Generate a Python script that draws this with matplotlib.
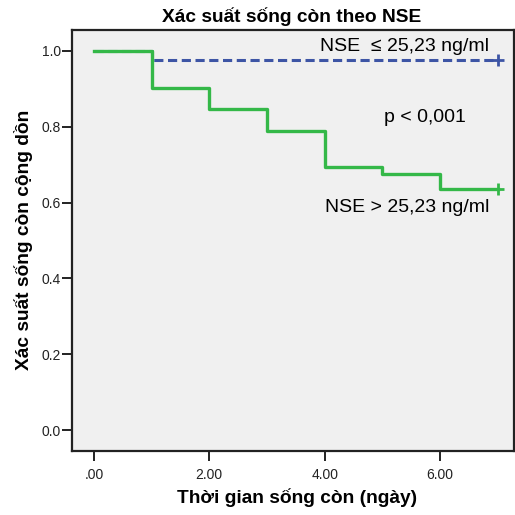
import numpy as np
import matplotlib
matplotlib.use('Agg')
import matplotlib.pyplot as plt

plt.rcParams['font.family'] = ['Liberation Sans', 'DejaVu Sans']

# survival curves (Kaplan-Meier style, step after each day)
time_high = [0, 1, 2, 3, 4, 5, 6, 7]
surv_high = [1.0, 0.903, 0.847, 0.789, 0.694, 0.675, 0.636, 0.636]
time_low = [0, 1, 7]
surv_low = [1.0, 0.976, 0.976]

xticks = [0, 2, 4, 6]
xticklabels = ['.00', '2.00', '4.00', '6.00']
yticks = [0.0, 0.2, 0.4, 0.6, 0.8, 1.0]

green = '#34b848'
blue = '#3d55a5'


def main():
    fig = plt.figure(figsize=(5.15, 5.15), dpi=100)
    ax = fig.add_axes([0.1398, 0.1243, 0.858, 0.8175])
    ax.set_facecolor('#f0f0f0')

    ax.step(time_low, surv_low, where='post', color=blue, lw=2.2,
            dashes=(3, 1.5), zorder=2)
    ax.plot(time_low[-1], surv_low[-1], marker='+', color=blue,
            markersize=8, mew=2, zorder=3)
    ax.step(time_high, surv_high, where='post', color=green, lw=2.4, zorder=3)
    ax.plot(time_high[-1], surv_high[-1], marker='+', color=green,
            markersize=8, mew=2, zorder=4)

    ax.set_xlim(-0.38, 7.28)
    ax.set_ylim(-0.055, 1.055)
    ax.set_xticks(xticks)
    ax.set_xticklabels(xticklabels)
    ax.set_yticks(yticks)
    ax.set_yticklabels(['{:.1f}'.format(v) for v in yticks])
    ax.tick_params(labelsize=10, length=7, width=1.4, direction='out',
                   color='#222222', labelcolor='#222222')
    ax.tick_params(axis='y', pad=1)
    ax.tick_params(axis='x', pad=5)
    for s in ax.spines.values():
        s.set_linewidth(1.6)
        s.set_color('#222222')

    ax.text(3.92, 1.011, 'NSE  \u2264 25,23 ng/ml', fontsize=14, va='center')
    ax.text(5.03, 0.823, 'p < 0,001', fontsize=14, va='center')
    ax.text(4.0, 0.586, 'NSE > 25,23 ng/ml', fontsize=14, va='center')

    fig.text(0.566, 0.967, 'Xác suất sống còn theo NSE', fontsize=13.8,
             fontweight='bold', ha='center', va='center')
    fig.text(0.577, 0.033, 'Thời gian sống còn (ngày)', fontsize=13.8,
             fontweight='bold', ha='center', va='center')
    fig.text(0.045, 0.534, 'Xác suất sống còn cộng dồn', fontsize=13.8,
             fontweight='bold', ha='center', va='center', rotation=90)

    fig.savefig('out.png', dpi=100)


if __name__ == "__main__":
    main()
